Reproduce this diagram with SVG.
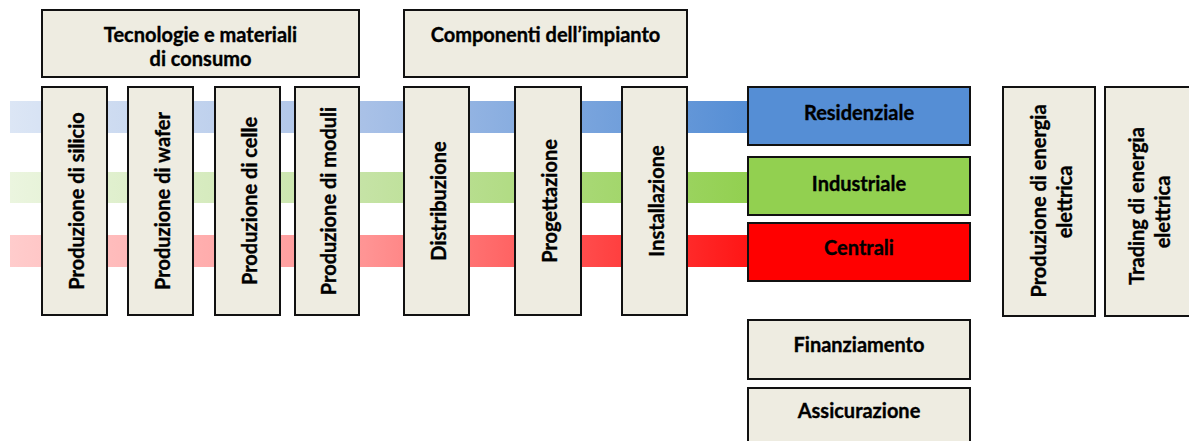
<svg xmlns="http://www.w3.org/2000/svg" width="1189" height="441" viewBox="0 0 1189 441">
  <style>
    .box { fill: #EEECE1; stroke: #111; stroke-width: 2; }
    .lbl { font-family: Lato, "Liberation Sans", sans-serif; font-weight: bold; font-size: 20px; fill: #000; stroke: #000; stroke-width: 0.35; text-anchor: middle; }
  </style>
  <defs>
    <linearGradient id="gBlue" gradientUnits="userSpaceOnUse" x1="10" y1="0" x2="749" y2="0">
      <stop offset="0" stop-color="#DCE6F5"/>
      <stop offset="0.48" stop-color="#A9C1E7"/>
      <stop offset="1" stop-color="#558ED5"/>
    </linearGradient>
    <linearGradient id="gGreen" gradientUnits="userSpaceOnUse" x1="10" y1="0" x2="749" y2="0">
      <stop offset="0" stop-color="#EBF5DF"/>
      <stop offset="0.48" stop-color="#C5E3A5"/>
      <stop offset="1" stop-color="#92D050"/>
    </linearGradient>
    <linearGradient id="gRed" gradientUnits="userSpaceOnUse" x1="10" y1="0" x2="749" y2="0">
      <stop offset="0" stop-color="#FFCCCC"/>
      <stop offset="0.48" stop-color="#FF9494"/>
      <stop offset="1" stop-color="#FF1515"/>
    </linearGradient>
  </defs>

  <!-- market flow bands running behind the value-chain boxes -->
  <g id="connectors">
    <rect x="10" y="101" width="739" height="32" fill="url(#gBlue)"/>
    <rect x="10" y="172" width="739" height="31" fill="url(#gGreen)"/>
    <rect x="10" y="235" width="739" height="32" fill="url(#gRed)"/>
  </g>

  <g id="tecnologie">
    <rect class="box" x="42" y="10" width="317" height="67"/>
    <text class="lbl" x="200.5" y="42">Tecnologie e materiali</text>
    <text class="lbl" x="200.5" y="66">di consumo</text>
  </g>
  <g id="componenti">
    <rect class="box" x="404" y="10" width="283" height="67"/>
    <text class="lbl" x="545.5" y="42">Componenti dell’impianto</text>
  </g>

  <g id="silicio">
    <rect class="box" x="42" y="87" width="65" height="228"/>
    <text class="lbl" transform="translate(83.5,201) rotate(-90)">Produzione di silicio</text>
  </g>
  <g id="wafer">
    <rect class="box" x="128" y="87" width="65" height="228"/>
    <text class="lbl" transform="translate(169.5,201) rotate(-90)">Produzione di wafer</text>
  </g>
  <g id="celle">
    <rect class="box" x="215" y="87" width="65" height="228"/>
    <text class="lbl" transform="translate(256.5,201) rotate(-90)">Produzione di celle</text>
  </g>
  <g id="moduli">
    <rect class="box" x="295" y="87" width="64" height="228"/>
    <text class="lbl" transform="translate(336,201) rotate(-90)">Produzione di moduli</text>
  </g>
  <g id="distribuzione">
    <rect class="box" x="404" y="87" width="65" height="228"/>
    <text class="lbl" transform="translate(445.5,201) rotate(-90)">Distribuzione</text>
  </g>
  <g id="progettazione">
    <rect class="box" x="515" y="87" width="66" height="228"/>
    <text class="lbl" transform="translate(557,201) rotate(-90)">Progettazione</text>
  </g>
  <g id="installazione">
    <rect class="box" x="622" y="87" width="65" height="228"/>
    <text class="lbl" transform="translate(664,201) rotate(-90)">Installazione</text>
  </g>

  <g id="residenziale">
    <rect class="box" x="748" y="87" width="222" height="58" style="fill:#558ED5"/>
    <text class="lbl" x="859" y="120">Residenziale</text>
  </g>
  <g id="industriale">
    <rect class="box" x="748" y="157" width="222" height="58" style="fill:#92D050"/>
    <text class="lbl" x="859" y="191">Industriale</text>
  </g>
  <g id="centrali">
    <rect class="box" x="748" y="223" width="222" height="58" style="fill:#FF0000"/>
    <text class="lbl" x="859" y="255">Centrali</text>
  </g>

  <g id="finanziamento">
    <rect class="box" x="748" y="320" width="222" height="59"/>
    <text class="lbl" x="859" y="352">Finanziamento</text>
  </g>
  <g id="assicurazione">
    <rect class="box" x="748" y="388" width="222" height="60"/>
    <text class="lbl" x="859" y="418">Assicurazione</text>
  </g>

  <g id="produzione-energia">
    <rect class="box" x="1003" y="87" width="92" height="229"/>
    <text class="lbl" transform="translate(1046,201) rotate(-90)">Produzione di energia</text>
    <text class="lbl" transform="translate(1072,202) rotate(-90)">elettrica</text>
  </g>
  <g id="trading">
    <rect class="box" x="1105" y="87" width="92" height="229"/>
    <text class="lbl" transform="translate(1144,206) rotate(-90)">Trading di energia</text>
    <text class="lbl" transform="translate(1170,212) rotate(-90)">elettrica</text>
  </g>
</svg>
